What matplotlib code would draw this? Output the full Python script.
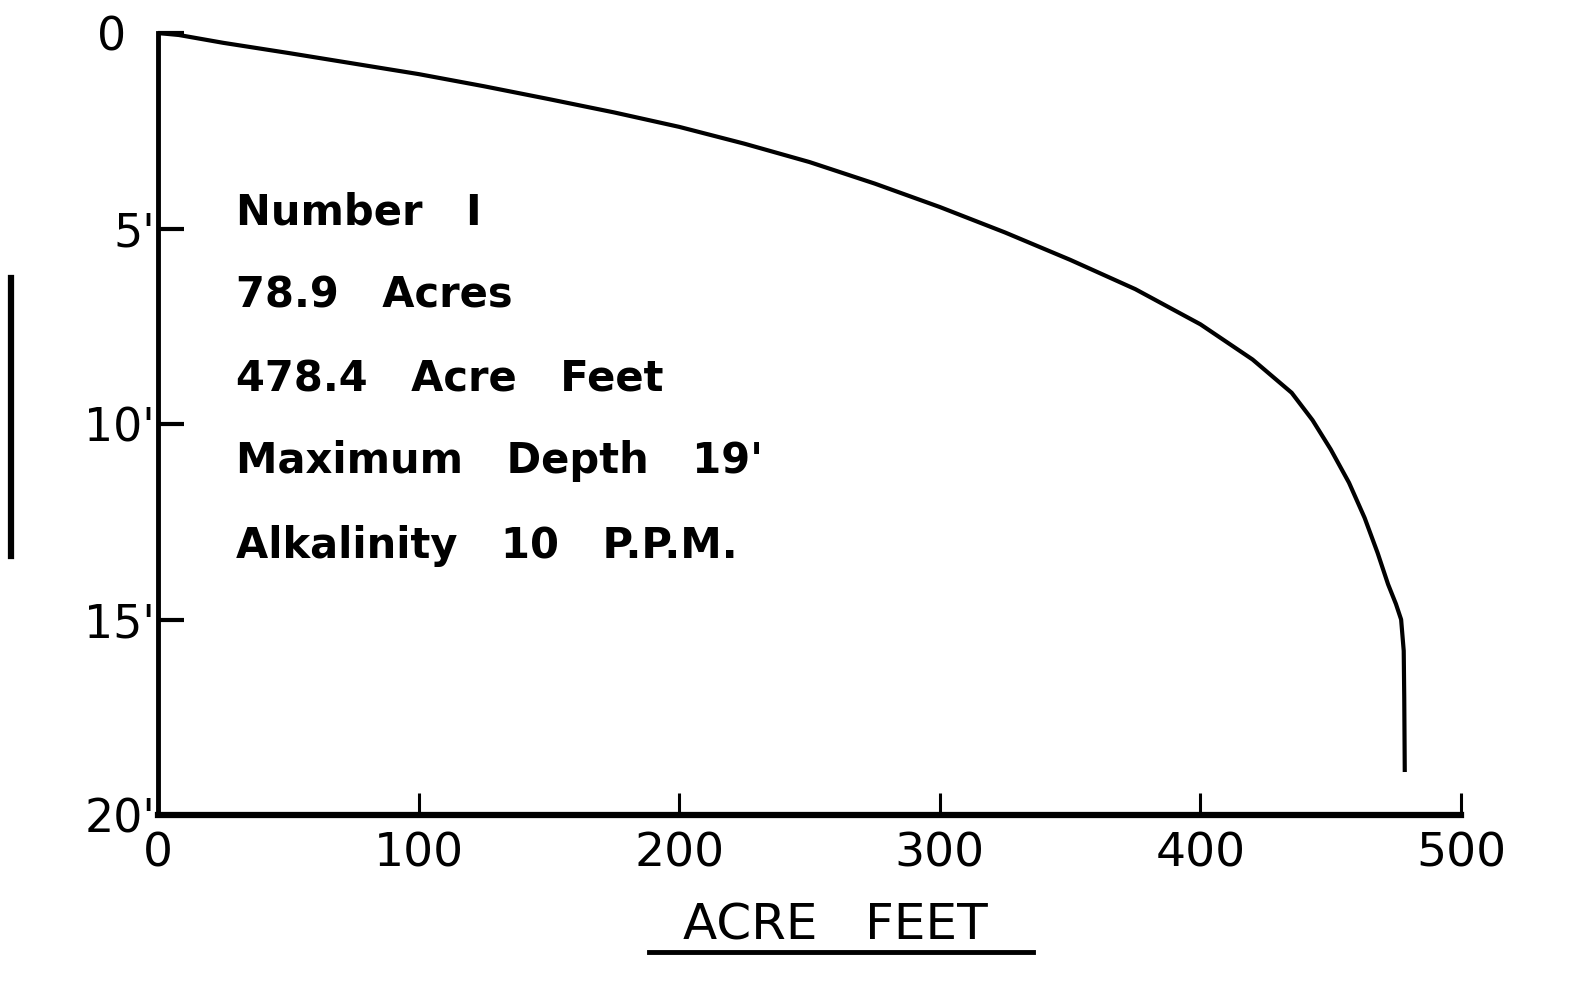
import matplotlib.pyplot as plt
from matplotlib.lines import Line2D

# depth-capacity curve
acre_feet = [0, 8, 25, 50, 75, 100, 125, 150, 175, 200, 225, 250, 275, 300, 325, 350,
             375, 400, 420, 435, 443, 450, 457, 463, 468, 472, 475, 477, 478, 478.2, 478.4]
depth_ft = [0, 0.05, 0.25, 0.51, 0.78, 1.05, 1.36, 1.69, 2.03, 2.4, 2.83, 3.3, 3.85, 4.45,
            5.1, 5.8, 6.55, 7.45, 8.35, 9.2, 9.9, 10.65, 11.5, 12.4, 13.3, 14.1, 14.6, 15.0,
            15.8, 17.0, 18.9]

x_ticks = [0, 100, 200, 300, 400, 500]
x_labels = ["0", "100", "200", "300", "400", "500"]
y_ticks = [0, 5, 10, 15, 20]
y_labels = ["0  ", "5'", "10'", "15'", "20'"]

notes = ["Number   I", "78.9   Acres", "478.4   Acre   Feet",
         "Maximum   Depth   19'", "Alkalinity   10   P.P.M."]
note_depths = [4.6, 6.72, 8.85, 10.95, 13.12]

plt.rcParams["font.family"] = ["DejaVu Sans"]

fig = plt.figure(figsize=(15.94, 9.92), dpi=100)
ax = fig.add_axes([0.0991, 0.1784, 0.8175, 0.7883])

ax.plot(acre_feet, depth_ft, color="black", lw=3.0, solid_capstyle="butt",
        solid_joinstyle="round")
ax.set_xlim(0, 500)
ax.set_ylim(20, 0)

for s in ["top", "right"]:
    ax.spines[s].set_visible(False)
ax.spines["left"].set_linewidth(3.5)
ax.spines["bottom"].set_linewidth(4.5)

ax.set_xticks(x_ticks); ax.set_xticklabels(x_labels)
ax.set_yticks(y_ticks); ax.set_yticklabels(y_labels)
ax.tick_params(axis="x", direction="in", length=16, width=2.2, pad=12, labelsize=34)
ax.tick_params(axis="y", direction="in", length=19, width=3, pad=2, labelsize=33)

for txt, d in zip(notes, note_depths):
    ax.text(30, d, txt, fontsize=30, fontweight="bold", va="center", ha="left")

ax.set_xlabel("ACRE   FEET", fontsize=36, labelpad=18)
ax.xaxis.label.set_position((0.52, 0))

# underline under the axis title and the clipped axis remnant at the far left
fig.add_artist(Line2D([0.407, 0.648], [0.04, 0.04], color="black", lw=3.5))
fig.add_artist(Line2D([0.0069, 0.0069], [0.72, 0.44], color="black", lw=4.5))

fig.savefig("out.png", dpi=100)
